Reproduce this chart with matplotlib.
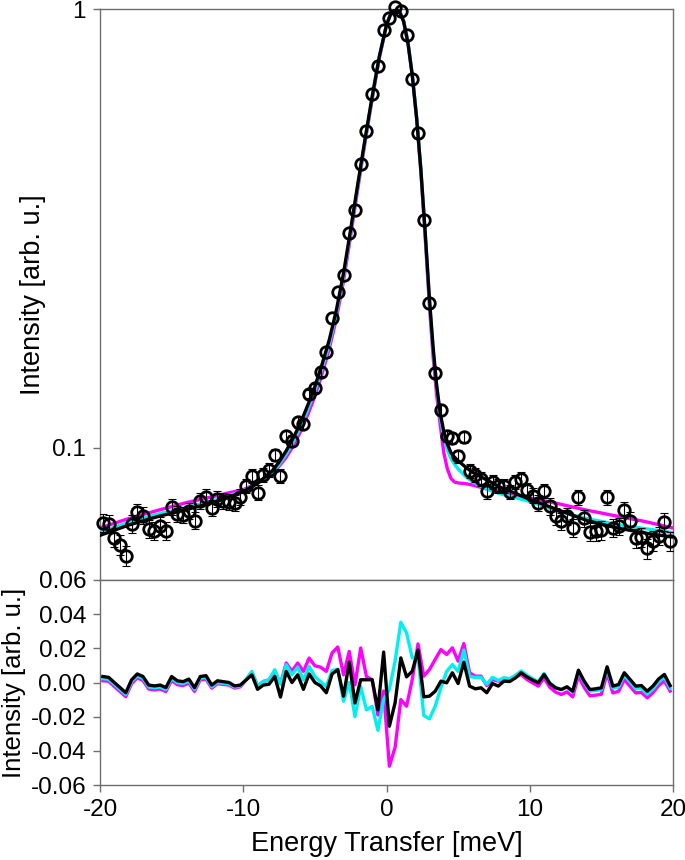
import numpy as np
import matplotlib
matplotlib.use("Agg")
import matplotlib.pyplot as plt
from matplotlib.ticker import FixedLocator, FixedFormatter

plt.rcParams['font.family'] = ['Liberation Sans', 'DejaVu Sans']
plt.rcParams['axes.unicode_minus'] = False

# ---------------- data ----------------
energy = np.round(np.arange(-19.8, 19.81, 0.4), 1)   # measured energy grid (meV)

intensity = [
    0.0675, 0.0672, 0.0624, 0.0602, 0.0568, 0.0672, 0.0715, 0.0701, 0.0655, 0.0648,
    0.0665, 0.0648, 0.0734, 0.0708, 0.0704, 0.0719, 0.0683, 0.0758, 0.0774, 0.0730,
    0.0766, 0.0758, 0.0754, 0.0750, 0.0774, 0.0820, 0.0864, 0.0790, 0.0868, 0.0891,
    0.0964, 0.0864, 0.1062, 0.1039, 0.1143, 0.1134, 0.1327, 0.1369, 0.1491, 0.1651,
    0.1972, 0.2266, 0.2472, 0.3081, 0.3492, 0.4444, 0.5261, 0.6409, 0.7432, 0.8960,
    0.9539, 1.0090, 0.9910, 0.8727, 0.6933, 0.5226, 0.3298, 0.2136, 0.1481, 0.1222,
    0.1065, 0.1051, 0.0957, 0.1057, 0.0886, 0.0868, 0.0850, 0.0796, 0.0837, 0.0820,
    0.0820, 0.0794, 0.0836, 0.0850, 0.0802, 0.0778, 0.0750, 0.0798, 0.0736, 0.0699,
    0.0680, 0.0699, 0.0657, 0.0772, 0.0692, 0.0643, 0.0645, 0.0649, 0.0772, 0.0657,
    0.0663, 0.0723, 0.0683, 0.0623, 0.0626, 0.0590, 0.0614, 0.0631, 0.0679, 0.0612,
]
intensity_err = 0.0031          # error bar half-height (visible only in the tails)
err_visible_below = 0.16        # near the peak the bars are hidden by the symbols

fit_energy = [-20, -18, -16, -14, -12, -11, -10, -9, -8, -7.5, -7, -6.5, -6, -5.5, -5,
              -4.5, -4, -3.5, -3, -2.5, -2, -1.5, -1, -0.5, 0, 0.3, 0.6, 0.9, 1.2, 1.5,
              1.8, 2.1, 2.4, 2.7, 3.0, 3.25, 3.5, 3.75, 4.0, 4.25, 4.5, 4.75, 5.0, 5.5,
              6, 7, 8, 9, 10, 12, 14, 16, 18, 20]

fit_magenta = [0.0657, 0.0690, 0.0720, 0.0750, 0.0776, 0.0790, 0.0803, 0.0832, 0.0875, 0.0908,
               0.0952, 0.1012, 0.1090, 0.1190, 0.1310, 0.1475, 0.1680, 0.1970, 0.2400, 0.3050,
               0.3900, 0.4960, 0.6230, 0.7730, 0.9200, 0.9780, 1.0020, 0.9900, 0.9380, 0.8380,
               0.7080, 0.5650, 0.4250, 0.3020, 0.2100, 0.1620, 0.1320, 0.1130, 0.0975, 0.0895,
               0.0852, 0.0836, 0.0832, 0.0829, 0.0823, 0.0806, 0.0790, 0.0778, 0.0769, 0.0746,
               0.0721, 0.0700, 0.0680, 0.0657]

fit_cyan = [0.0643, 0.0676, 0.0706, 0.0731, 0.0760, 0.0778, 0.0798, 0.0830, 0.0878, 0.0916,
            0.0968, 0.1034, 0.1115, 0.1222, 0.1348, 0.1515, 0.1720, 0.2020, 0.2460, 0.3110,
            0.3960, 0.5010, 0.6290, 0.7790, 0.9200, 0.9760, 1.0000, 0.9890, 0.9370, 0.8370,
            0.7070, 0.5670, 0.4320, 0.3100, 0.2160, 0.1680, 0.1380, 0.1180, 0.1060, 0.0990,
            0.0945, 0.0918, 0.0895, 0.0862, 0.0837, 0.0805, 0.0785, 0.0770, 0.0755, 0.0717,
            0.0690, 0.0670, 0.0655, 0.0641]

fit_black = [0.0632, 0.0667, 0.0697, 0.0723, 0.0752, 0.0772, 0.0795, 0.0830, 0.0885, 0.0928,
             0.0985, 0.1055, 0.1140, 0.1250, 0.1380, 0.1550, 0.1760, 0.2060, 0.2500, 0.3150,
             0.4000, 0.5050, 0.6320, 0.7800, 0.9200, 0.9750, 1.0000, 0.9880, 0.9350, 0.8350,
             0.7050, 0.5650, 0.4300, 0.3100, 0.2180, 0.1700, 0.1390, 0.1200, 0.1090, 0.1020,
             0.0975, 0.0952, 0.0935, 0.0905, 0.0880, 0.0845, 0.0812, 0.0788, 0.0763, 0.0722,
             0.0683, 0.0658, 0.0640, 0.0626]

resid_black = [
    0.0035, 0.0030, 0.0000, -0.0030, -0.0060, 0.0015, 0.0050, 0.0035, -0.0015, -0.0020,
    -0.0015, -0.0030, 0.0035, 0.0010, 0.0005, 0.0020, -0.0030, 0.0035, 0.0040, -0.0015,
    0.0010, 0.0005, 0.0000, -0.0020, -0.0015, 0.0015, 0.0045, -0.0040, -0.0015, -0.0010,
    0.0035, -0.0085, 0.0065, 0.0000, 0.0045, -0.0040, 0.0050, 0.0000, -0.0020, -0.0060,
    0.0050, 0.0075, -0.0080, 0.0120, -0.0120, 0.0016, 0.0016, 0.0016, -0.0160, 0.0178,
    -0.0256, -0.0119, 0.0144, 0.0033, 0.0066, 0.0190, -0.0084, -0.0080, -0.0051, 0.0008,
    -0.0002, 0.0057, -0.0006, 0.0119, -0.0021, -0.0037, -0.0031, -0.0060, -0.0006, -0.0021,
    0.0008, 0.0006, 0.0027, 0.0057, 0.0033, 0.0014, -0.0002, 0.0047, -0.0006, -0.0031,
    -0.0041, -0.0025, -0.0051, 0.0072, 0.0008, -0.0041, -0.0037, -0.0031, 0.0092, -0.0021,
    -0.0012, 0.0057, 0.0018, -0.0021, -0.0018, -0.0051, -0.0021, 0.0021, 0.0047, -0.0018,
]

resid_magenta = [
    0.0010, 0.0008, -0.0023, -0.0053, -0.0083, -0.0008, 0.0027, 0.0012, -0.0038, -0.0043,
    -0.0038, -0.0053, 0.0012, -0.0013, -0.0018, -0.0003, -0.0052, 0.0015, 0.0020, -0.0033,
    -0.0007, -0.0011, -0.0015, -0.0033, -0.0025, 0.0015, 0.0060, -0.0020, 0.0006, 0.0016,
    0.0065, -0.0005, 0.0114, 0.0065, 0.0114, 0.0065, 0.0143, 0.0098, 0.0090, 0.0065,
    0.0173, 0.0208, 0.0045, 0.0182, -0.0014, 0.0202, 0.0035, 0.0016, -0.0190, -0.0050,
    -0.0490, -0.0380, -0.0100, -0.0139, 0.0018, 0.0226, 0.0037, 0.0076, 0.0135, 0.0193,
    0.0164, 0.0203, 0.0125, 0.0228, 0.0057, 0.0037, 0.0037, -0.0018, 0.0018, 0.0008,
    0.0012, 0.0014, 0.0033, 0.0047, 0.0018, -0.0002, -0.0021, 0.0027, -0.0028, -0.0056,
    -0.0070, -0.0055, -0.0084, 0.0037, -0.0028, -0.0078, -0.0074, -0.0069, 0.0053, -0.0061,
    -0.0052, 0.0017, -0.0022, -0.0061, -0.0058, -0.0090, -0.0060, -0.0018, 0.0010, -0.0050,
]

resid_cyan = [
    0.0023, 0.0019, -0.0011, -0.0041, -0.0071, 0.0004, 0.0039, 0.0024, -0.0026, -0.0031,
    -0.0026, -0.0041, 0.0024, -0.0001, -0.0006, 0.0009, -0.0040, 0.0025, 0.0030, -0.0025,
    0.0000, -0.0004, -0.0008, -0.0027, -0.0020, 0.0018, 0.0065, -0.0020, 0.0006, 0.0016,
    0.0075, -0.0010, 0.0104, 0.0045, 0.0090, 0.0015, 0.0094, 0.0035, 0.0005, -0.0024,
    0.0070, 0.0078, -0.0110, 0.0000, -0.0200, -0.0024, -0.0160, -0.0140, -0.0280, -0.0100,
    -0.0040, 0.0125, 0.0353, 0.0290, 0.0144, 0.0154, -0.0193, -0.0213, -0.0139, -0.0030,
    0.0065, 0.0105, 0.0065, 0.0190, 0.0035, 0.0030, 0.0030, -0.0010, 0.0030, 0.0012,
    0.0028, 0.0022, 0.0042, 0.0068, 0.0043, 0.0022, 0.0005, 0.0053, -0.0002, -0.0029,
    -0.0042, -0.0028, -0.0056, 0.0066, 0.0001, -0.0050, -0.0047, -0.0042, 0.0080, -0.0033,
    -0.0026, 0.0043, 0.0003, -0.0037, -0.0034, -0.0068, -0.0038, 0.0005, 0.0032, -0.0033,
]

x_ticks = [-20, -10, 0, 10, 20]
top_ticks = [0.1, 1]
top_tick_labels = ['0.1', '1']
res_ticks = [-0.06, -0.04, -0.02, 0.00, 0.02, 0.04, 0.06]

# ---------------- figure ----------------
W, H = 685, 860
fig = plt.figure(figsize=(W / 100, H / 100), dpi=100)
L, R = 100, 673
ax1 = fig.add_axes([L / W, (H - 580) / H, (R - L) / W, (580 - 9) / H])
ax2 = fig.add_axes([L / W, (H - 785) / H, (R - L) / W, (785 - 580) / H])

MAG, CYA, BLK = '#FF00FF', '#00F0F0', '#000000'
spine_col = '#6E6E6E'
fs_tick = 17.5
fs_lab = 19.5

# top panel
ax1.set_yscale('log')
ax1.plot(fit_energy, fit_magenta, color=MAG, lw=2.4, zorder=2)
ax1.plot(fit_energy, fit_cyan, color=CYA, lw=2.4, zorder=3)
ax1.plot(fit_energy, fit_black, color=BLK, lw=2.4, zorder=4)

e_arr = np.asarray(energy)
i_arr = np.asarray(intensity)
vis = i_arr < err_visible_below
ax1.errorbar(e_arr[vis], i_arr[vis], yerr=intensity_err, fmt='none',
             ecolor='black', elinewidth=0.8, capsize=3, capthick=0.8, zorder=5)
ax1.plot(e_arr, i_arr, 'o', ms=8.3, mfc='none', mec='black', mew=2.0,
         zorder=6, clip_on=False)
ax1.set_xlim(-20, 20)
ax1.set_ylim(0.05, 1)
ax1.yaxis.set_major_locator(FixedLocator(top_ticks))
ax1.yaxis.set_major_formatter(FixedFormatter(top_tick_labels))
ax1.yaxis.set_minor_locator(FixedLocator([]))
ax1.tick_params(axis='x', bottom=False, labelbottom=False)
ax1.tick_params(axis='y', direction='out', length=5, width=1, color=spine_col,
                labelsize=fs_tick, pad=5)
ax1.set_ylabel('Intensity [arb. u.]', fontsize=fs_lab)
ax1.yaxis.set_label_coords(-0.095, 0.5)

# bottom panel
ax2.plot(energy, resid_magenta, color=MAG, lw=2.4, zorder=2)
ax2.plot(energy, resid_cyan, color=CYA, lw=2.4, zorder=3)
ax2.plot(energy, resid_black, color=BLK, lw=2.4, zorder=4)
ax2.set_xlim(-20, 20)
ax2.set_ylim(-0.06, 0.06)
ax2.set_xticks(x_ticks)
ax2.set_yticks(res_ticks)
ax2.set_yticklabels([f'{v:.2f}' for v in res_ticks])
ax2.tick_params(axis='both', direction='out', length=5, width=1, color=spine_col,
                labelsize=fs_tick, pad=5)
ax2.set_ylabel('Intensity [arb. u.]', fontsize=fs_lab - 1)
ax2.yaxis.set_label_coords(-0.13, 0.5)
ax2.set_xlabel('Energy Transfer [meV]', fontsize=fs_lab, labelpad=7)

for ax in (ax1, ax2):
    for s in ax.spines.values():
        s.set_color(spine_col)
        s.set_linewidth(1.0)

fig.savefig('out.png', dpi=100)
